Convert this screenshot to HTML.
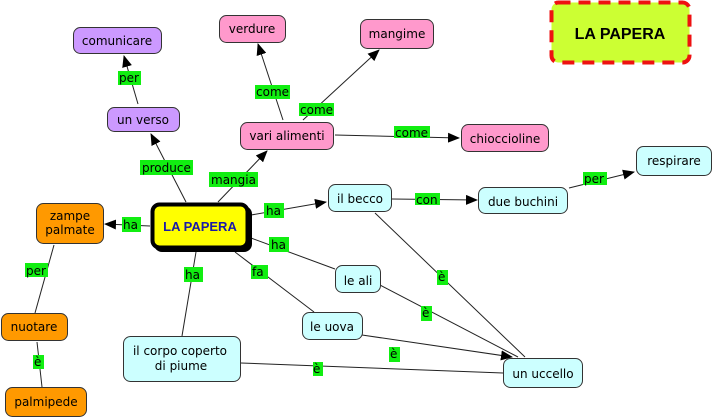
<!DOCTYPE html>
<html><head><meta charset="utf-8"><style>
html,body{margin:0;padding:0;background:#fff;width:713px;height:419px;overflow:hidden}
svg text{font-family:"DejaVu Sans","Liberation Sans",sans-serif;font-size:12px;fill:#000}
.l{fill:#11ee11}
</style></head><body>
<svg width="713" height="419" viewBox="0 0 713 419" xmlns="http://www.w3.org/2000/svg">
<defs>
<marker id="a" markerWidth="12" markerHeight="10" refX="11" refY="5" orient="auto" markerUnits="userSpaceOnUse">
<path d="M0,0 L12,5 L0,10 z" fill="#000"/></marker>
</defs>
<g stroke="#222" stroke-width="1" fill="none">
<!-- arrow lines -->
<path d="M186,202 L151,134" marker-end="url(#a)"/>
<path d="M138,104 L124,56" marker-end="url(#a)"/>
<path d="M218,202 L267,151" marker-end="url(#a)"/>
<path d="M283,120 L258,44" marker-end="url(#a)"/>
<path d="M303,120 L379,50" marker-end="url(#a)"/>
<path d="M335,135 L459,138" marker-end="url(#a)"/>
<path d="M251,215 L326,202" marker-end="url(#a)"/>
<path d="M150,226 L105,224" marker-end="url(#a)"/>
<path d="M392,199 L477,200" marker-end="url(#a)"/>
<path d="M569,188 L634,172" marker-end="url(#a)"/>
<path d="M362,335 L512,357" marker-end="url(#a)"/>
<!-- plain lines -->
<path d="M251,238 L335,269"/>
<path d="M235,252 L314,312"/>
<path d="M196,252 L182,336"/>
<path d="M54,245 L35,313"/>
<path d="M37,342 L42,387"/>
<path d="M375,213 L525,357"/>
<path d="M380,285 L518,357"/>
<path d="M241,363 L503,373"/>
</g>
<!-- link labels -->
<g>
<rect class="l" x="140" y="160" width="53" height="15"/><text x="142" y="172">produce</text>
<rect class="l" x="209" y="172" width="49" height="15"/><text x="211" y="184">mangia</text>
<rect class="l" x="118" y="71" width="23" height="14"/><text x="119" y="82">per</text>
<rect class="l" x="255" y="85" width="35" height="14"/><text x="256" y="96">come</text>
<rect class="l" x="299" y="103" width="35" height="13"/><text x="300" y="114">come</text>
<rect class="l" x="394" y="126" width="36" height="12"/><text x="395" y="137">come</text>
<rect class="l" x="264" y="203" width="20" height="15"/><text x="266" y="215">ha</text>
<rect class="l" x="122" y="217" width="19" height="15"/><text x="123" y="229">ha</text>
<rect class="l" x="269" y="237" width="20" height="15"/><text x="271" y="249">ha</text>
<rect class="l" x="184" y="267" width="19" height="15"/><text x="185" y="279">ha</text>
<rect class="l" x="251" y="265" width="17" height="14"/><text x="252" y="276">fa</text>
<rect class="l" x="25" y="263" width="23" height="14"/><text x="26" y="275">per</text>
<rect class="l" x="33" y="355" width="11" height="14"/><text x="34" y="366">è</text>
<rect class="l" x="415" y="193" width="25" height="12"/><text x="416" y="204">con</text>
<rect class="l" x="583" y="172" width="24" height="13"/><text x="584" y="183">per</text>
<rect class="l" x="437" y="270" width="11" height="15"/><text x="438" y="281">è</text>
<rect class="l" x="421" y="306" width="11" height="15"/><text x="422" y="317">è</text>
<rect class="l" x="389" y="347" width="11" height="15"/><text x="390" y="358">è</text>
<rect class="l" x="313" y="362" width="10" height="14"/><text x="313" y="373">è</text>
</g>
<!-- nodes -->
<g stroke="#333" stroke-width="1">
<rect x="73.5" y="27.5" width="88" height="26" rx="7" fill="#cc99ff"/>
<rect x="107.5" y="107.5" width="72" height="24" rx="7" fill="#cc99ff"/>
<rect x="219.5" y="15.5" width="66" height="27" rx="7" fill="#ff99cc"/>
<rect x="360.5" y="19.5" width="73" height="29" rx="7" fill="#ff99cc"/>
<rect x="240.5" y="122.5" width="93" height="27" rx="7" fill="#ff99cc"/>
<rect x="461.5" y="124.5" width="87" height="27" rx="7" fill="#ff99cc"/>
<rect x="36.5" y="203.5" width="67" height="40" rx="7" fill="#ff9900"/>
<rect x="1.5" y="313.5" width="66" height="27" rx="7" fill="#ff9900"/>
<rect x="5.5" y="387.5" width="81" height="29" rx="7" fill="#ff9900"/>
<rect x="328.5" y="184.5" width="63" height="27" rx="7" fill="#ccffff"/>
<rect x="478.5" y="187.5" width="89" height="26" rx="7" fill="#ccffff"/>
<rect x="636.5" y="146.5" width="75" height="29" rx="7" fill="#ccffff"/>
<rect x="335.5" y="265.5" width="45" height="27" rx="7" fill="#ccffff"/>
<rect x="302.5" y="312.5" width="60" height="27" rx="7" fill="#ccffff"/>
<rect x="123.5" y="336.5" width="117" height="45" rx="7" fill="#ccffff"/>
<rect x="503.5" y="358.5" width="79" height="29" rx="7" fill="#ccffff"/>
</g>
<rect x="154" y="206" width="98" height="46" rx="8" fill="#000"/>
<rect x="152.5" y="204.5" width="95" height="43" rx="7" fill="#ffff00" stroke="#000" stroke-width="4"/>
<text x="200" y="231" text-anchor="middle" style="font-family:'Liberation Sans',sans-serif;font-weight:bold;font-size:13px;fill:#1a1aa8">LA PAPERA</text>
<rect x="551.5" y="2.5" width="138" height="60" rx="7" fill="#ccff33" stroke="#ee1111" stroke-width="4" stroke-dasharray="12,8"/>
<text x="620" y="39" text-anchor="middle" style="font-family:'Liberation Sans',sans-serif;font-weight:bold;font-size:16px">LA PAPERA</text>
<g text-anchor="middle">
<text x="117" y="45">comunicare</text>
<text x="143" y="124">un verso</text>
<text x="252" y="33">verdure</text>
<text x="397" y="38">mangime</text>
<text x="287" y="140">vari alimenti</text>
<text x="505" y="143">chioccioline</text>
<text x="70" y="220">zampe</text><text x="70" y="234">palmate</text>
<text x="34" y="331">nuotare</text>
<text x="46" y="406">palmipede</text>
<text x="360" y="203">il becco</text>
<text x="523" y="206">due buchini</text>
<text x="674" y="165">respirare</text>
<text x="358" y="285">le ali</text>
<text x="332" y="331">le uova</text>
<text x="180" y="355">il corpo coperto</text><text x="181" y="370">di piume</text>
<text x="543" y="378">un uccello</text>
</g>
</svg>
</body></html>
